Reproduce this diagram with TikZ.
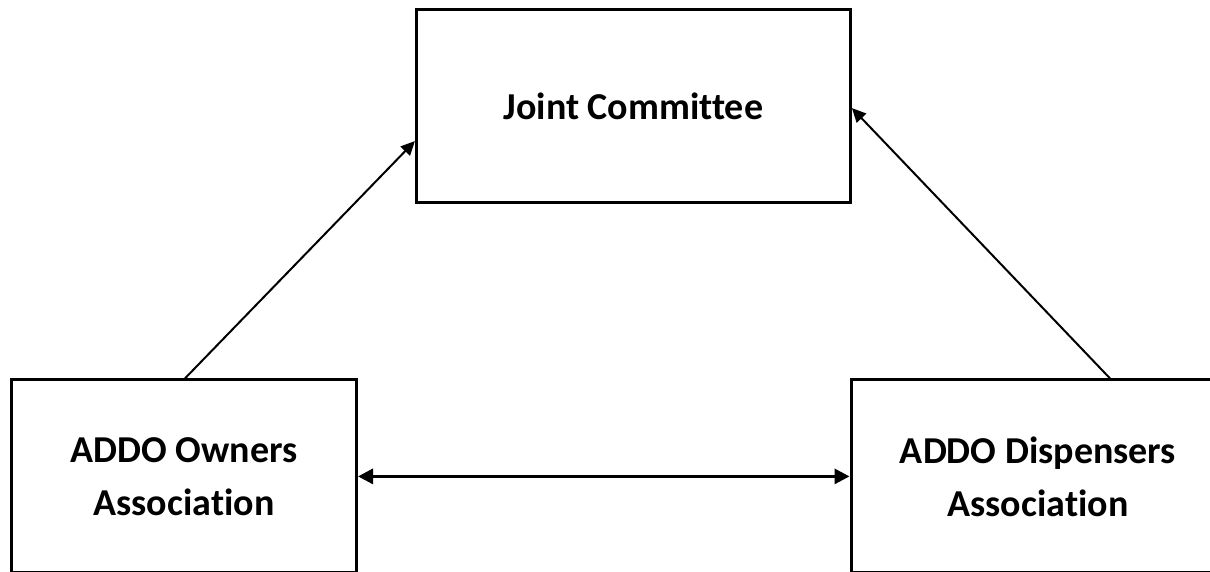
\documentclass[tikz,border=0pt]{standalone}
\usepackage{fontspec}
\setmainfont{Carlito}[Ligatures=NoCommon]
\usetikzlibrary{arrows.meta}
\begin{document}
\begin{tikzpicture}[x=1pt,y=-1pt,
  box/.style={draw=black, line width=3pt, inner sep=0pt, align=center,
    font=\bfseries\fontsize{38}{53}\selectfont, minimum height=193pt},
  arr/.style={draw=black, line width=2pt, -{Triangle[length=14pt,width=13pt]}},
  darr/.style={draw=black, line width=3pt, {Triangle[length=15pt,width=15pt]}-{Triangle[length=15pt,width=15pt]}}
]
\useasboundingbox (0,0) rectangle (1210,572);
\node[box, minimum width=434pt] (jc) at (633.4,106.1) {Joint Committee};
\node[box, minimum width=345pt] (ob) at (184,476.4) {ADDO Owners\\Association};
\node[box, minimum width=374pt] (db) at (1038,476.4) {ADDO Dispensers\\Association};
\draw[arr] ([xshift=1pt]ob.north) -- ([yshift=-35pt]jc.west);
\draw[arr] ([xshift=72pt]db.north) -- ([yshift=-2pt]jc.east);
\draw[darr] (ob.east) -- (db.west);
\end{tikzpicture}
\end{document}
